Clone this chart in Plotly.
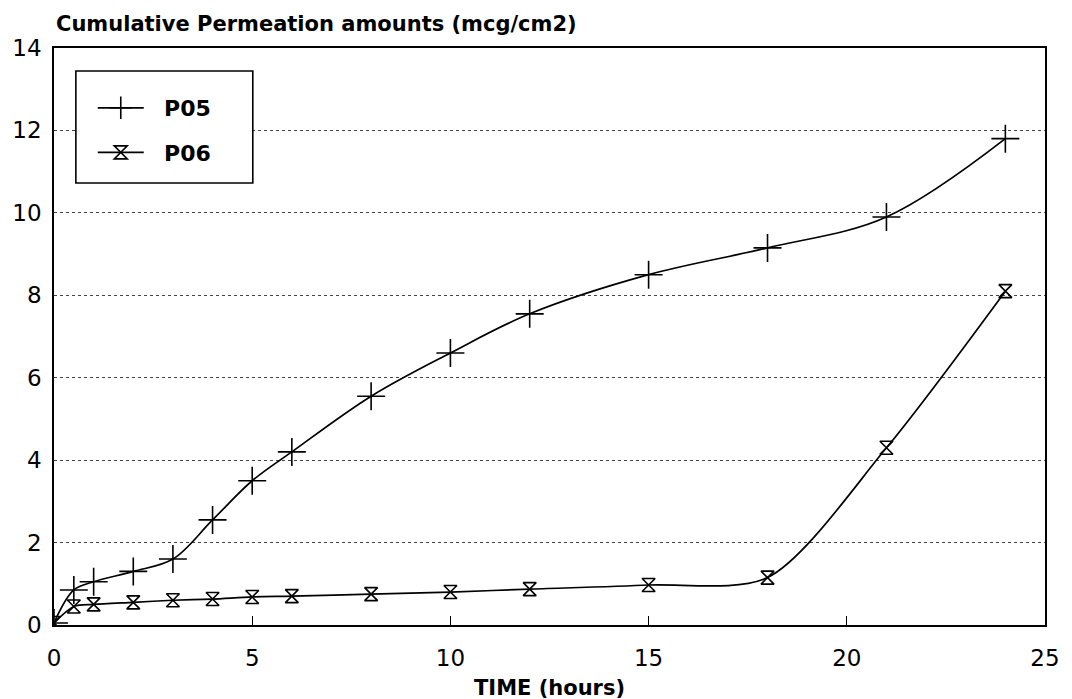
import plotly.graph_objects as go

# Sampling times (hours)
time_h = [0, 0.5, 1, 2, 3, 4, 5, 6, 8, 10, 12, 15, 18, 21, 24]

# Cumulative permeation amounts (mcg/cm2)
p05 = [0.05, 0.85, 1.05, 1.3, 1.6, 2.55, 3.5, 4.2, 5.55, 6.6, 7.55, 8.5, 9.15, 9.9, 11.8]
p06 = [0.05, 0.45, 0.5, 0.55, 0.6, 0.63, 0.68, 0.7, 0.75, 0.8, 0.87, 0.97, 1.15, 4.3, 8.1]

x_ticks = [0, 5, 10, 15, 20, 25]
y_ticks = [0, 2, 4, 6, 8, 10, 12, 14]

FONT = "DejaVu Sans, Verdana, sans-serif"

# plot area in pixels: x 53..1050, y 48..625
L, R, T, B = 53, 1050, 48, 625
W, H = R - L, B - T


def px_x(p):
    return (p - L) / W


def px_y(p):
    return (B - p) / H


fig = go.Figure()

fig.add_trace(go.Scatter(
    x=time_h, y=p05, name="\u00a0\u00a0P05", mode="lines+markers",
    line=dict(color="black", width=1.7, shape="spline", smoothing=1.0),
    marker=dict(symbol="cross-thin", size=20, line=dict(color="black", width=1.6)),
    legendgroup="a",
))
fig.add_trace(go.Scatter(
    x=time_h, y=p06, name="\u00a0\u00a0P06", mode="lines+markers",
    line=dict(color="black", width=1.7, shape="spline", smoothing=0.8),
    marker=dict(symbol="hourglass-open", size=13, color="black",
                line=dict(color="black", width=1.6)),
    legendgroup="b",
))

# Framed legend box
fig.add_shape(type="rect", xref="paper", yref="paper",
              x0=px_x(75), x1=px_x(253), y0=px_y(183), y1=px_y(71),
              line=dict(color="black", width=1.6), fillcolor="white", layer="above")

fig.add_annotation(text="Cumulative Permeation amounts (mcg/cm2)",
                   xref="paper", yref="paper", x=0, y=px_y(24),
                   xanchor="left", yanchor="middle", showarrow=False,
                   font=dict(family=FONT, size=21, color="black", weight="bold"))
fig.add_annotation(text="TIME (hours)",
                   xref="paper", yref="paper", x=0.5, y=px_y(688),
                   xanchor="center", yanchor="middle", showarrow=False,
                   font=dict(family=FONT, size=21, color="black", weight="bold"))

fig.update_layout(
    width=1072, height=699,
    margin=dict(l=L, r=1072 - R, t=T, b=699 - B),
    paper_bgcolor="white", plot_bgcolor="white",
    font=dict(family=FONT, color="black", size=20),
    showlegend=True,
    legend=dict(x=px_x(92), y=px_y(87), xanchor="left", yanchor="top",
                bgcolor="rgba(0,0,0,0)", borderwidth=0,
                font=dict(family=FONT, size=22, color="black", weight="bold"),
                tracegroupgap=13, traceorder="grouped", itemwidth=46),
    xaxis=dict(range=[0, 25], tickvals=x_ticks, ticks="inside", ticklen=9,
               tickwidth=1.3, tickcolor="black", showgrid=False, zeroline=False,
               showline=True, linecolor="black", linewidth=1.6, mirror=True,
               ticklabelstandoff=12,
               tickfont=dict(family=FONT, size=23, color="black")),
    yaxis=dict(range=[0, 14], tickvals=y_ticks, ticks="", showgrid=True,
               gridcolor="#444", griddash="dot", gridwidth=1, zeroline=False,
               showline=True, linecolor="black", linewidth=1.6, mirror=True,
               ticklabelstandoff=6,
               tickfont=dict(family=FONT, size=23, color="black")),
)

fig.write_html("out.html")
